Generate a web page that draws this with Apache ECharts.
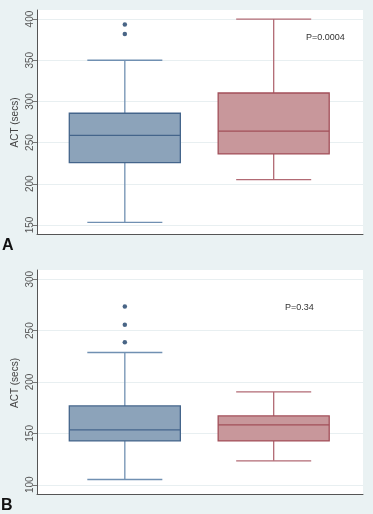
<!DOCTYPE html>
<html>
<head>
<meta charset="utf-8">
<script src="https://cdn.jsdelivr.net/npm/echarts@6/dist/echarts.min.js"></script>
<style>
html,body{margin:0;padding:0;background:#eaf2f3;}
#c{width:373px;height:514px;}
</style>
</head>
<body>
<div id="c"></div>
<script>
// ---- data ----
const groupPos = [1, 2];
// [low whisker, Q1, median, Q3, high whisker]
const boxA = [[153, 225.6, 258.8, 285.6, 350], [205, 236.2, 264, 310.2, 400]];
const outliersA = [[1, 393.5], [1, 382]];
const boxB = [[105.1, 142.7, 153.4, 176.7, 228.7], [123.3, 142.7, 158.3, 167, 190.3]];
const outliersB = [[1, 273.4], [1, 255.6], [1, 238.8]];
const ticksA = [150, 200, 250, 300, 350, 400];
const ticksB = [100, 150, 200, 250, 300];
const pTextA = 'P=0.0004';
const pTextB = 'P=0.34';
const yName = 'ACT (secs)';

// ---- styles ----
const fills = ['#8ca3ba', '#c8979b'];
const borders = ['#44658b', '#a24f59'];
const whiskers = ['#7090b2', '#b26a74'];
const outlierColor = '#1c3e68';
const font = 'Liberation Sans, Arial, sans-serif';

function boxSeries(box, axisIdx) {
  return {
    type: 'custom',
    xAxisIndex: axisIdx, yAxisIndex: axisIdx,
    data: box.map((b, i) => [groupPos[i], b[0], b[1], b[2], b[3], b[4], i]),
    encode: { x: 0, y: [1, 2, 3, 4, 5] },
    renderItem: function (params, api) {
      const x = api.value(0);
      const idx = api.value(6);
      const pLow = api.coord([x, api.value(1)]);
      const pQ1 = api.coord([x, api.value(2)]);
      const pMed = api.coord([x, api.value(3)]);
      const pQ3 = api.coord([x, api.value(4)]);
      const pHigh = api.coord([x, api.value(5)]);
      const boxHalf = api.size([0.373, 0])[0];
      const capHalf = api.size([0.252, 0])[0];
      const cx = pMed[0];
      const wStyle = { stroke: whiskers[idx], lineWidth: 1.3 };
      return {
        type: 'group',
        children: [
          { type: 'line', shape: { x1: cx, y1: pQ1[1], x2: cx, y2: pLow[1] }, style: wStyle },
          { type: 'line', shape: { x1: cx, y1: pQ3[1], x2: cx, y2: pHigh[1] }, style: wStyle },
          { type: 'line', shape: { x1: cx - capHalf, y1: pLow[1], x2: cx + capHalf, y2: pLow[1] }, style: wStyle },
          { type: 'line', shape: { x1: cx - capHalf, y1: pHigh[1], x2: cx + capHalf, y2: pHigh[1] }, style: wStyle },
          { type: 'rect', shape: { x: cx - boxHalf, y: pQ3[1], width: boxHalf * 2, height: pQ1[1] - pQ3[1] },
            style: { fill: fills[idx], stroke: borders[idx], lineWidth: 1.3 } },
          { type: 'line', shape: { x1: cx - boxHalf, y1: pMed[1], x2: cx + boxHalf, y2: pMed[1] },
            style: { stroke: borders[idx], lineWidth: 1.3 } }
        ]
      };
    },
    z: 3
  };
}

function yAxis(gi, min, max, ticks) {
  return {
    type: 'value', gridIndex: gi, min: min, max: max,
    axisLine: { show: true, lineStyle: { color: '#555', width: 1 } },
    axisTick: { show: true, length: 4, customValues: ticks, lineStyle: { color: '#777' } },
    axisLabel: { customValues: ticks, rotate: 90, margin: 2, align: 'center', verticalAlign: 'bottom',
      fontFamily: 'Liberation Sans Narrow, Arial Narrow, Liberation Sans, sans-serif',
      fontSize: 10, color: '#555' },
    splitLine: { show: true, lineStyle: { color: '#e8eff1', width: 1 } }
  };
}
function xAxis(gi) {
  return {
    type: 'value', gridIndex: gi, min: 0.41, max: 2.6,
    axisLine: { show: true, onZero: false, lineStyle: { color: '#555', width: 1 } },
    axisTick: { show: false }, axisLabel: { show: false }, splitLine: { show: false }
  };
}

const chart = echarts.init(document.getElementById('c'), null, { renderer: 'canvas' });
chart.setOption({
  backgroundColor: '#eaf2f3',
  animation: false,
  grid: [
    { left: 37, right: 10, top: 10, height: 224, show: true, backgroundColor: '#ffffff', borderWidth: 0 },
    { left: 37, right: 10, top: 270, height: 224, show: true, backgroundColor: '#ffffff', borderWidth: 0 }
  ],
  xAxis: [xAxis(0), xAxis(1)],
  yAxis: [yAxis(0, 139, 411, ticksA), yAxis(1, 91, 309, ticksB)],
  series: [
    boxSeries(boxA, 0),
    boxSeries(boxB, 1),
    { type: 'scatter', xAxisIndex: 0, yAxisIndex: 0, data: outliersA, symbol: 'circle', symbolSize: 4.5,
      itemStyle: { color: outlierColor }, z: 4 },
    { type: 'scatter', xAxisIndex: 1, yAxisIndex: 1, data: outliersB, symbol: 'circle', symbolSize: 4.5,
      itemStyle: { color: outlierColor }, z: 4 }
  ],
  graphic: [
    { type: 'text', x: 15.5, y: 122.5, rotation: Math.PI / 2,
      style: { text: yName, fontSize: 10, fontFamily: font, fill: '#444', align: 'center', verticalAlign: 'middle' } },
    { type: 'text', x: 15.5, y: 383, rotation: Math.PI / 2,
      style: { text: yName, fontSize: 10, fontFamily: font, fill: '#444', align: 'center', verticalAlign: 'middle' } },
    { type: 'text', left: 306, top: 33, style: { text: pTextA, fontSize: 9, fontFamily: font, fill: '#333' } },
    { type: 'text', left: 285, top: 303, style: { text: pTextB, fontSize: 9, fontFamily: font, fill: '#333' } },
    { type: 'text', left: 2, top: 238, style: { text: 'A', fontSize: 16, fontWeight: 'bold', fontFamily: font, fill: '#111' } },
    { type: 'text', left: 1, top: 498, style: { text: 'B', fontSize: 16, fontWeight: 'bold', fontFamily: font, fill: '#111' } }
  ]
});
</script>
</body>
</html>
